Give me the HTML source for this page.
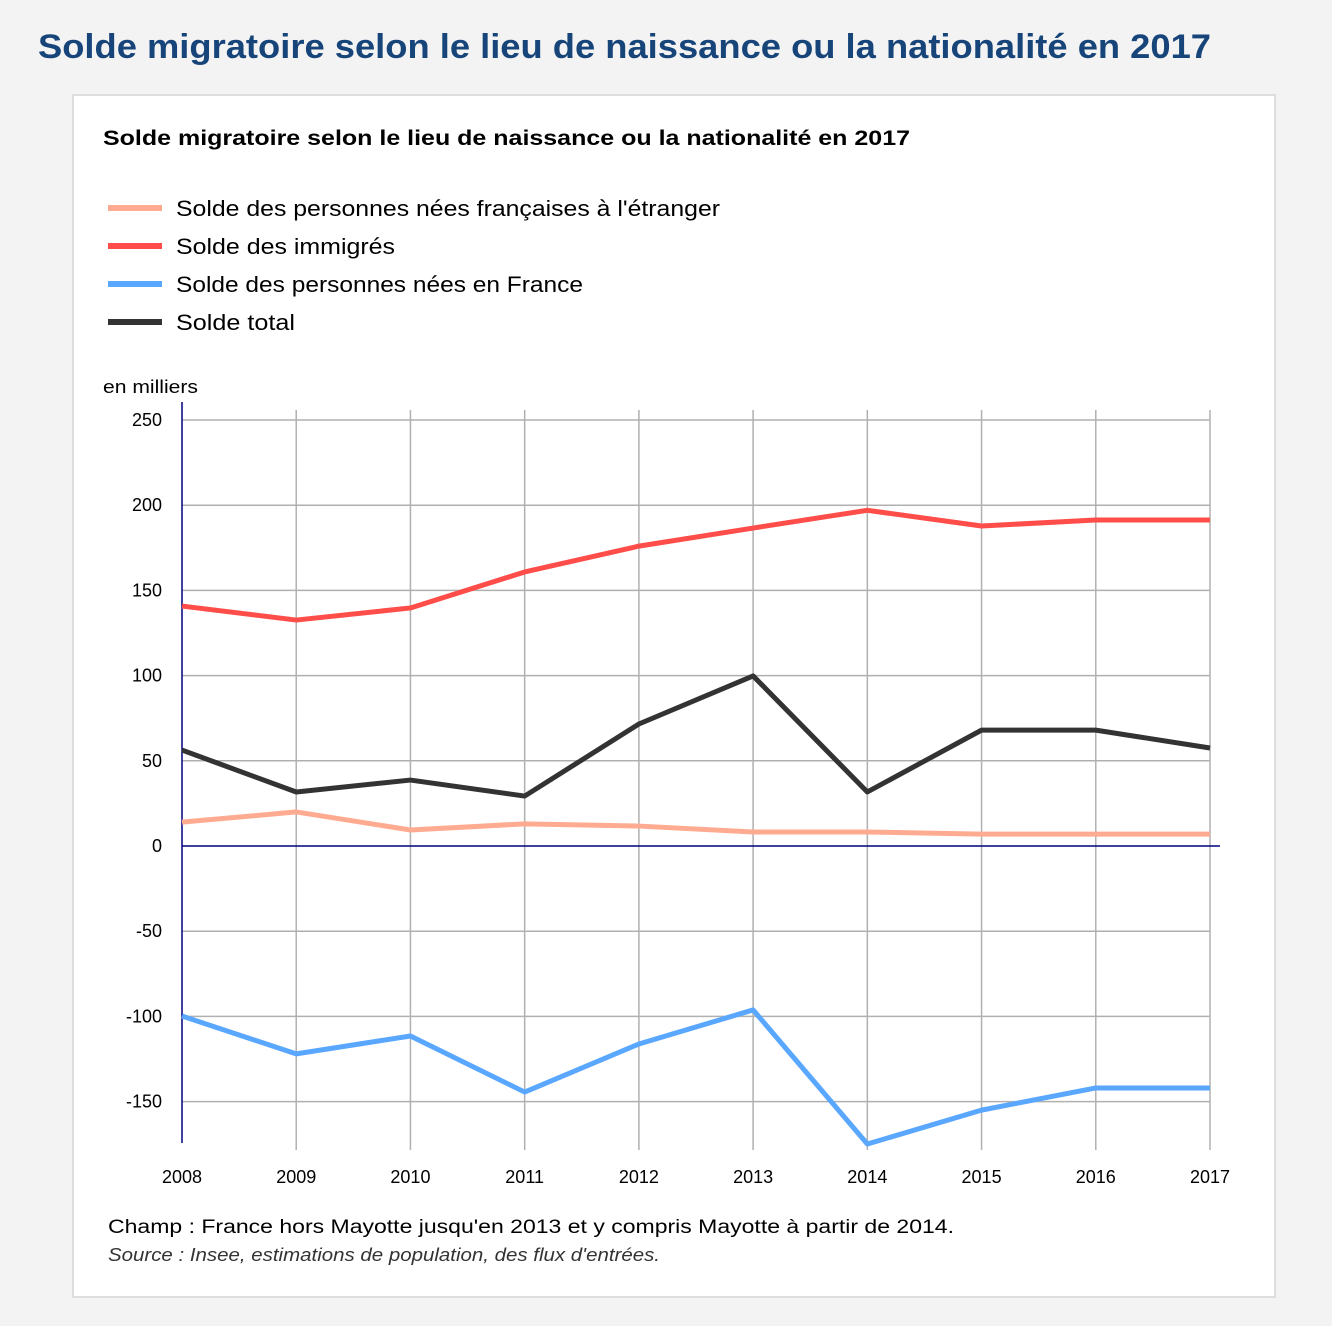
<!DOCTYPE html>
<html><head><meta charset="utf-8"><style>
html,body{margin:0;padding:0;background:#f3f3f3;width:1332px;height:1326px;overflow:hidden}
svg{display:block;font-family:"Liberation Sans",sans-serif}
</style></head><body>
<svg id="chart" width="1332" height="1326">
<text x="38" y="58" font-size="34" font-weight="bold" fill="#17457a" textLength="1173" lengthAdjust="spacingAndGlyphs">Solde migratoire selon le lieu de naissance ou la nationalité en 2017</text>
<rect x="73" y="95" width="1202" height="1202" fill="#fff" stroke="#ddd" stroke-width="2"/>
<text x="103" y="145" font-size="21" font-weight="bold" fill="#000" textLength="807" lengthAdjust="spacingAndGlyphs">Solde migratoire selon le lieu de naissance ou la nationalité en 2017</text>
<g id="legend"></g>
<text x="103" y="393" font-size="18" fill="#000" textLength="95" lengthAdjust="spacingAndGlyphs">en milliers</text>
<g id="grid"></g><g id="lines"></g><g id="labels"></g>
<text x="108" y="1233" font-size="19" fill="#000" textLength="846" lengthAdjust="spacingAndGlyphs">Champ : France hors Mayotte jusqu'en 2013 et y compris Mayotte à partir de 2014.</text>
<text x="108" y="1261" font-size="18" font-style="italic" fill="#333" textLength="552" lengthAdjust="spacingAndGlyphs">Source : Insee, estimations de population, des flux d'entrées.</text>
</svg>
<script>
const years=[2008,2009,2010,2011,2012,2013,2014,2015,2016,2017];
const yTicks=[250,200,150,100,50,0,-50,-100,-150];
const seriesNames=["Solde des personnes nées françaises à l'étranger","Solde des immigrés","Solde des personnes nées en France","Solde total"];
const seriesColors=["#ffab91","#ff4d4a","#5aa7ff","#333333"];
const legendWidths=[544,219,407,119];
const francaisEtranger=[14,20,9.4,13,11.7,8.2,8.2,7,7,7];
const immigres=[140.8,132.6,139.7,160.8,176,186.6,197,187.8,191.3,191.3];
const neesFrance=[-99.8,-122,-111.5,-144.4,-116.2,-96.2,-174.9,-155,-142,-142];
const total=[56.3,31.7,38.7,29.3,71.6,99.8,31.7,68,68,57.5];
const allSeries=[francaisEtranger,immigres,neesFrance,total];
const NS="http://www.w3.org/2000/svg";
const X0=182,X1=1210,Y0=846,PX=85.2/50;
const xs=i=>X0+(X1-X0)*i/(years.length-1);
const ys=v=>Y0-v*PX;
function mk(t,a,p){const e=document.createElementNS(NS,t);for(const k in a)e.setAttribute(k,a[k]);p.appendChild(e);return e;}
const grid=document.getElementById('grid'),lines=document.getElementById('lines'),labels=document.getElementById('labels'),legend=document.getElementById('legend');
yTicks.forEach(v=>{
  if(v!==0){const l=mk('line',{x1:X0,x2:X1,y1:ys(v),y2:ys(v),stroke:'#b0b0b0','stroke-width':1.5},grid);
  
  }
  const t=mk('text',{x:162,y:ys(v)+6,'font-size':18,'text-anchor':'end',fill:'#000'},labels);t.textContent=v;
  
  
});
years.forEach((y,i)=>{
  if(i>0){const l=mk('line',{x1:xs(i),x2:xs(i),y1:410,y2:1150,stroke:'#b0b0b0','stroke-width':1.5},grid);
  
  }
  const t=mk('text',{x:xs(i),y:1183,'font-size':18,'text-anchor':'middle',fill:'#000'},labels);t.textContent=y;
  
  
});
const za=mk('line',{x1:X0,x2:1220,y1:Y0,y2:Y0,stroke:'#000080','stroke-width':1.5},grid);


const ya=mk('line',{x1:X0,x2:X0,y1:402,y2:1143,stroke:'#000080','stroke-width':1.5},grid);


allSeries.forEach((s,k)=>{
  const p=mk('polyline',{points:s.map((v,i)=>xs(i)+','+ys(v)).join(' '),fill:'none',stroke:seriesColors[k],'stroke-width':5,'stroke-linejoin':'round'},lines);
  
  
  const ly=208+k*38;
  const ls=mk('line',{x1:108,x2:162,y1:ly,y2:ly,stroke:seriesColors[k],'stroke-width':6},legend);
  
  
  const lt=mk('text',{x:176,y:ly+8,'font-size':22,fill:'#000',textLength:legendWidths[k],lengthAdjust:'spacingAndGlyphs'},legend);lt.textContent=seriesNames[k];
  
  
});
</script>
</body></html>
